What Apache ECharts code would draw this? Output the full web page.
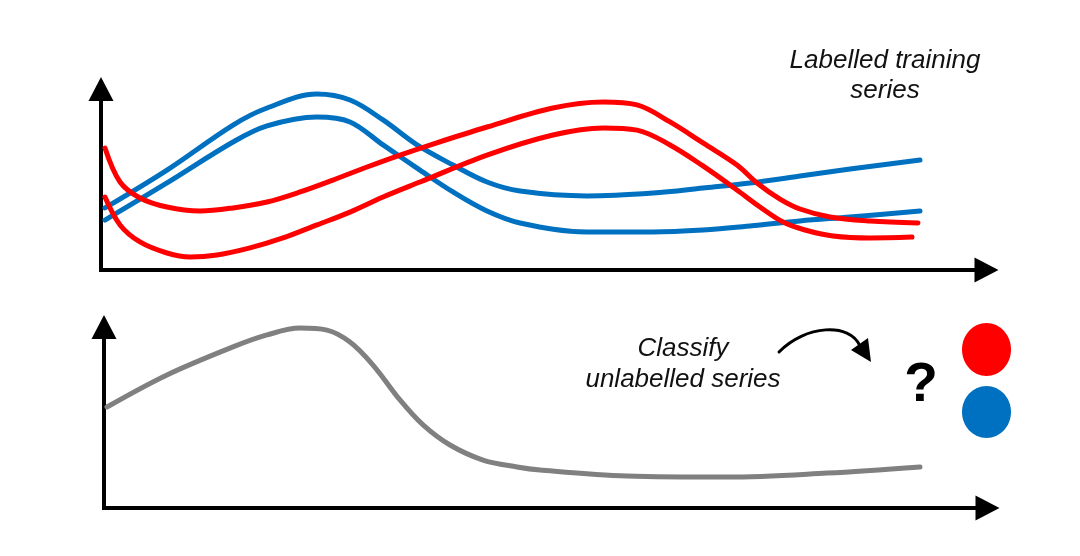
<!DOCTYPE html>
<html>
<head>
<meta charset="utf-8">
<script src="https://cdn.jsdelivr.net/npm/echarts/dist/echarts.min.js"></script>
<style>
html,body{margin:0;padding:0;background:#fff;}
#chart{width:1080px;height:556px;}
</style>
</head>
<body>
<div id="chart"></div>
<script>
// Labelled training series (top panel): [time, value] in arbitrary 0-100 units
const blueUpper = [[0.45,34.3],[7.45,55.2],[14.91,80.1],[18.75,89.5],[24.39,97.2],[28.12,93.9],[31.85,82.9],[35.69,69.1],[39.75,58.0],[43.59,48.6],[47.32,43.6],[54.88,40.9],[62.34,42.5],[67.98,45.3],[73.29,48.1],[78.94,51.9],[84.59,55.8],[92.49,60.8]];
const blueLower = [[0.45,27.6],[7.45,48.1],[14.91,70.7],[18.75,79.6],[24.39,84.5],[28.12,81.8],[31.85,69.1],[36.02,55.2],[39.75,43.1],[43.59,32.6],[47.32,26.0],[54.88,21.0],[62.34,21.0],[67.98,22.1],[73.29,24.3],[78.94,27.1],[84.59,29.3],[92.49,32.6]];
const redUpper = [[0.45,67.4],[2.15,48.6],[4.40,39.8],[7.45,34.8],[11.18,32.6],[14.91,34.3],[18.75,37.6],[22.47,43.1],[26.20,49.7],[30.04,56.9],[33.77,63.5],[37.49,69.6],[43.59,79.0],[51.04,89.5],[56.69,92.8],[60.53,91.2],[64.26,81.8],[67.98,70.2],[71.82,58.0],[74.08,48.1],[76.68,39.2],[78.94,33.7],[82.32,29.3],[86.84,27.1],[92.26,26.0]];
const redLower = [[0.45,40.3],[2.15,24.9],[4.40,15.5],[7.45,9.4],[10.05,7.2],[13.10,8.3],[16.83,12.2],[20.55,17.7],[24.39,24.9],[28.12,32.0],[31.85,40.3],[36.02,48.6],[43.59,63.5],[51.04,74.6],[56.69,78.5],[60.53,77.3],[64.26,69.1],[67.98,57.5],[71.82,44.2],[74.42,34.8],[77.02,26.5],[79.50,22.1],[82.67,18.8],[86.84,17.7],[91.59,18.2]];
// Unlabelled series (bottom panel)
const grayUnlabelled = [[0.34,55.8],[7.13,73.5],[14.60,89.0],[18.45,95.6],[22.18,99.4],[25.24,98.3],[27.84,91.7],[30.45,79.0],[33.50,59.7],[36.11,45.9],[39.16,34.8],[42.90,26.5],[46.75,22.7],[49.35,21.0],[59.20,17.7],[70.51,17.1],[81.83,19.3],[92.36,22.7]];
// Annotation texts
const topLabel = ['Labelled training', 'series'];
const bottomLabel = ['Classify', 'unlabelled series'];
const questionMark = '?';

const RED = '#ff0000', BLUE = '#0070c0', GRAY = '#808080';
const chart = echarts.init(document.getElementById('chart'), null, {renderer: 'canvas'});

function axisX(gi){
  return {type:'value', gridIndex:gi, min:0, max:100,
    axisLine:{show:true, onZero:false, symbol:['none','triangle'], symbolSize:[25,24], lineStyle:{color:'#000', width:4, cap:'square'}},
    axisTick:{show:false}, axisLabel:{show:false}, splitLine:{show:false}};
}
function axisY(gi){
  return {type:'value', gridIndex:gi, min:0, max:100,
    axisLine:{show:true, onZero:false, symbol:['none','triangle'], symbolSize:[25,24], lineStyle:{color:'#000', width:4, cap:'square'}},
    axisTick:{show:false}, axisLabel:{show:false}, splitLine:{show:false}};
}
function line(data, color, gi){
  return {type:'line', xAxisIndex:gi, yAxisIndex:gi, data:data, smooth:0.35, symbol:'none',
    lineStyle:{color:color, width:5, cap:'round', join:'round'}, silent:true};
}
const txt = {fontFamily:'Liberation Sans', fontStyle:'italic', fontSize:26, fill:'#111', align:'center', verticalAlign:'middle'};

chart.setOption({
  animation:false,
  backgroundColor:'#fff',
  grid:[
    {left:101, right:93.5, top:89, bottom:286},
    {left:104, right:92.5, top:327, bottom:48}
  ],
  xAxis:[axisX(0), axisX(1)],
  yAxis:[axisY(0), axisY(1)],
  series:[
    line(blueUpper, BLUE, 0),
    line(blueLower, BLUE, 0),
    line(redUpper, RED, 0),
    line(redLower, RED, 0),
    line(grayUnlabelled, GRAY, 1)
  ],
  graphic:[
    {type:'text', x:885, y:61, style:Object.assign({text:topLabel[0]}, txt)},
    {type:'text', x:885, y:91, style:Object.assign({text:topLabel[1]}, txt)},
    {type:'text', x:683, y:349, style:Object.assign({text:bottomLabel[0]}, txt)},
    {type:'text', x:683, y:380, style:Object.assign({text:bottomLabel[1]}, txt)},
    {type:'text', x:921, y:386, style:{text:questionMark, fontFamily:'Liberation Sans', fontWeight:'bold', fontSize:55, fill:'#000', align:'center', verticalAlign:'middle'}},
    {type:'bezierCurve', shape:{x1:779, y1:352, cpx1:805, cpy1:325, cpx2:850, cpy2:322, x2:860, y2:346}, style:{stroke:'#000', lineWidth:3, fill:null, lineCap:'round'}},
    {type:'polygon', shape:{points:[[871,362],[851,350],[868,338]]}, style:{fill:'#000'}},
    {type:'ellipse', shape:{cx:986.5, cy:349.5, rx:24.5, ry:26.5}, style:{fill:RED}},
    {type:'ellipse', shape:{cx:986.5, cy:412, rx:24.5, ry:26}, style:{fill:BLUE}}
  ]
});
</script>
</body>
</html>
